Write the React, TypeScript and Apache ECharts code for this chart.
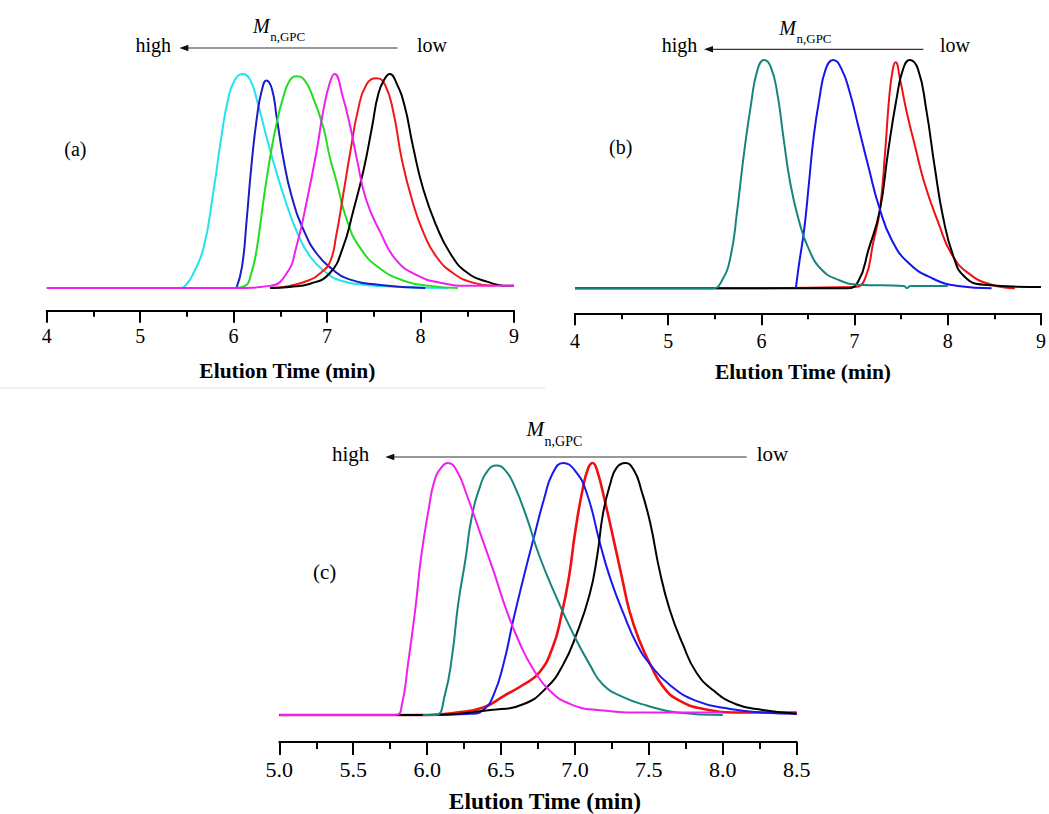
import React, { useEffect, useRef } from "react";
import * as echarts from "echarts";

const FONT = "Liberation Serif";
const AXIS_NAME = "Elution Time (min)";

// Panel (a) traces: [elution time (min), normalized detector response]
const cyanA: number[][] = [[4.0, 0], [5.0, 0], [5.43, 0], [5.5, 0.02], [5.57, 0.069], [5.68, 0.19], [5.78, 0.44], [5.87, 0.71], [5.94, 0.88], [6.01, 0.97], [6.1, 1.0], [6.18, 0.97], [6.26, 0.86], [6.39, 0.645], [6.53, 0.44], [6.67, 0.27], [6.82, 0.146], [7.0, 0.069], [7.14, 0.035], [7.39, 0.015], [7.8, 0.005], [8.3, 0]];
const blueA: number[][] = [[6.03, 0], [6.09, 0.1], [6.14, 0.32], [6.19, 0.57], [6.25, 0.8], [6.3, 0.92], [6.35, 0.97], [6.41, 0.93], [6.46, 0.8], [6.53, 0.61], [6.62, 0.43], [6.75, 0.27], [6.89, 0.16], [7.05, 0.09], [7.21, 0.045], [7.57, 0.014], [8.05, 0]];
const greenA: number[][] = [[6.0, 0], [6.12, 0.01], [6.19, 0.07], [6.25, 0.19], [6.32, 0.41], [6.39, 0.61], [6.46, 0.77], [6.53, 0.89], [6.6, 0.97], [6.67, 0.99], [6.76, 0.97], [6.85, 0.89], [6.96, 0.75], [7.03, 0.61], [7.1, 0.5], [7.21, 0.32], [7.35, 0.19], [7.57, 0.09], [7.85, 0.03], [8.1, 0.01], [8.4, 0]];
const redA: number[][] = [[6.39, 0], [6.6, 0.01], [6.8, 0.035], [6.93, 0.07], [7.03, 0.12], [7.1, 0.25], [7.17, 0.43], [7.25, 0.64], [7.33, 0.83], [7.42, 0.95], [7.53, 0.98], [7.62, 0.95], [7.71, 0.82], [7.8, 0.6], [7.91, 0.41], [8.03, 0.26], [8.17, 0.146], [8.35, 0.069], [8.56, 0.025], [8.78, 0.01]];
const blackA: number[][] = [[6.39, 0], [6.6, 0.005], [6.82, 0.02], [7.03, 0.07], [7.17, 0.19], [7.28, 0.36], [7.39, 0.55], [7.48, 0.75], [7.55, 0.91], [7.62, 0.98], [7.67, 1.0], [7.74, 0.96], [7.83, 0.85], [7.92, 0.66], [8.03, 0.46], [8.17, 0.29], [8.32, 0.16], [8.49, 0.075], [8.71, 0.03], [8.96, 0.01], [9.0, 0.01]];
const magentaA: number[][] = [[4.0, 0], [5.0, 0], [6.0, 0], [6.39, 0.01], [6.57, 0.07], [6.67, 0.19], [6.78, 0.4], [6.89, 0.645], [6.96, 0.83], [7.03, 0.96], [7.08, 1.0], [7.17, 0.89], [7.25, 0.75], [7.32, 0.6], [7.42, 0.41], [7.57, 0.26], [7.74, 0.13], [7.96, 0.06], [8.21, 0.025], [8.53, 0.01], [9.0, 0.01]];

// Panel (b) traces
const redB: number[][] = [[4.0, 0], [5.0, 0], [6.0, 0], [7.0, 0.005], [7.11, 0.04], [7.2, 0.2], [7.27, 0.34], [7.33, 0.61], [7.37, 0.83], [7.41, 0.96], [7.44, 0.99], [7.49, 0.91], [7.56, 0.77], [7.65, 0.62], [7.75, 0.46], [7.9, 0.285], [8.04, 0.15], [8.22, 0.066], [8.47, 0.015], [8.72, 0]];
const blackB: number[][] = [[4.0, 0], [6.0, 0], [6.92, 0], [7.04, 0.03], [7.15, 0.17], [7.27, 0.34], [7.36, 0.6], [7.45, 0.83], [7.52, 0.96], [7.59, 1.0], [7.68, 0.96], [7.77, 0.78], [7.86, 0.53], [7.95, 0.31], [8.06, 0.14], [8.18, 0.05], [8.39, 0.015], [9.0, 0.005]];
const blueB: number[][] = [[6.37, 0], [6.4, 0.095], [6.46, 0.26], [6.51, 0.46], [6.56, 0.66], [6.62, 0.825], [6.69, 0.96], [6.77, 1.0], [6.86, 0.96], [6.95, 0.855], [7.04, 0.71], [7.15, 0.53], [7.26, 0.36], [7.4, 0.21], [7.58, 0.11], [7.83, 0.044], [8.11, 0.01], [8.47, 0]];
const tealB: number[][] = [[4.0, 0], [5.0, 0], [5.48, 0], [5.58, 0.036], [5.67, 0.14], [5.74, 0.34], [5.81, 0.58], [5.89, 0.81], [5.96, 0.96], [6.03, 1.0], [6.1, 0.97], [6.17, 0.855], [6.24, 0.65], [6.31, 0.46], [6.4, 0.3], [6.51, 0.17], [6.65, 0.08], [6.83, 0.036], [7.04, 0.015], [7.53, 0.01], [7.56, 0.0], [7.6, 0.01], [8.0, 0.01]];

// Panel (c) traces
const redC: number[][] = [[5.0, 0], [6.0, 0], [6.2, 0.01], [6.38, 0.03], [6.52, 0.076], [6.65, 0.12], [6.76, 0.17], [6.85, 0.27], [6.91, 0.4], [6.96, 0.55], [7.0, 0.72], [7.05, 0.89], [7.09, 0.98], [7.12, 1.0], [7.15, 0.97], [7.2, 0.855], [7.26, 0.7], [7.32, 0.54], [7.37, 0.41], [7.44, 0.29], [7.51, 0.2], [7.6, 0.11], [7.71, 0.056], [7.87, 0.024], [8.12, 0.01], [8.5, 0.01]];
const blueC: number[][] = [[5.0, 0], [6.0, 0], [6.3, 0.005], [6.38, 0.02], [6.45, 0.08], [6.52, 0.21], [6.58, 0.37], [6.65, 0.54], [6.72, 0.7], [6.79, 0.855], [6.85, 0.96], [6.92, 1.0], [7.0, 0.97], [7.08, 0.88], [7.17, 0.68], [7.24, 0.54], [7.33, 0.4], [7.42, 0.28], [7.51, 0.2], [7.64, 0.12], [7.82, 0.056], [8.05, 0.024], [8.27, 0.01], [8.5, 0.005]];
const blackC: number[][] = [[5.0, 0], [6.0, 0], [6.43, 0.02], [6.65, 0.043], [6.81, 0.11], [6.92, 0.2], [7.01, 0.32], [7.1, 0.48], [7.15, 0.63], [7.19, 0.8], [7.24, 0.92], [7.28, 0.98], [7.34, 1.0], [7.4, 0.97], [7.45, 0.89], [7.51, 0.76], [7.57, 0.58], [7.64, 0.42], [7.73, 0.28], [7.82, 0.17], [7.94, 0.096], [8.09, 0.043], [8.27, 0.02], [8.5, 0.005]];
const tealC: number[][] = [[5.97, 0], [6.06, 0], [6.12, 0.08], [6.17, 0.24], [6.21, 0.44], [6.26, 0.62], [6.3, 0.78], [6.36, 0.91], [6.41, 0.97], [6.47, 0.99], [6.53, 0.97], [6.59, 0.91], [6.67, 0.79], [6.76, 0.63], [6.88, 0.46], [6.99, 0.32], [7.1, 0.2], [7.19, 0.12], [7.33, 0.07], [7.49, 0.037], [7.69, 0.01], [8.0, 0]];
const magentaC: number[][] = [[5.0, 0], [5.5, 0], [5.79, 0], [5.83, 0.043], [5.87, 0.2], [5.92, 0.42], [5.96, 0.63], [6.01, 0.815], [6.05, 0.93], [6.1, 0.985], [6.14, 1.0], [6.2, 0.97], [6.27, 0.87], [6.36, 0.72], [6.45, 0.57], [6.54, 0.41], [6.63, 0.28], [6.72, 0.18], [6.83, 0.096], [6.97, 0.043], [7.15, 0.02], [7.5, 0.01], [8.0, 0.01]];

const panelLabels = ["(a)", "(b)", "(c)"];
const headerTexts = { high: "high", low: "low", M: "M", sub: "n,GPC" };

function xAxis(gridIndex: number, min: number, max: number, interval: number, fontSize: number, margin: number, nameGap: number, nameSize: number, decimals: number, tickLen: number, minorLen: number, namePad: number[]) {
  return {
    type: "value",
    gridIndex,
    min,
    max,
    interval,
    position: "bottom",
    axisLine: { show: true, onZero: false, lineStyle: { color: "#000", width: 2 } },
    axisTick: { show: true, inside: false, length: tickLen, lineStyle: { color: "#000", width: 2 } },
    minorTick: { show: true, splitNumber: 2, length: minorLen, lineStyle: { color: "#000", width: 2 } },
    splitLine: { show: false },
    minorSplitLine: { show: false },
    axisLabel: {
      show: true,
      margin,
      color: "#000",
      fontFamily: FONT,
      fontSize,
      formatter: (v: number) => v.toFixed(decimals),
    },
    name: AXIS_NAME,
    nameLocation: "middle",
    nameGap,
    nameTextStyle: { fontFamily: FONT, fontWeight: "bold", fontSize: nameSize, color: "#000", padding: namePad },
  };
}

function yAxis(gridIndex: number, min: number) {
  return { type: "value", gridIndex, min, max: 1, show: false, splitLine: { show: false } };
}

function line(data: number[][], color: string, idx: number, width = 2) {
  return {
    type: "line",
    xAxisIndex: idx,
    yAxisIndex: idx,
    data,
    showSymbol: false,
    symbol: "none",
    smooth: 0.5,
    lineStyle: { color, width },
    silent: true,
  };
}

function txt(text: string, x: number, y: number, size: number, extra: any = {}) {
  return {
    type: "text",
    x,
    y,
    silent: true,
    style: { text, fill: "#000", font: `${extra.italic ? "italic " : ""}${size}px ${FONT}`, align: "left", verticalAlign: "middle" },
  };
}

function header(highX: number, lowX: number, textY: number, arrowL: number, arrowR: number, arrowY: number, mX: number, mY: number, subY: number, size: number, subSize: number) {
  const els: any[] = [
    txt(headerTexts.high, highX, textY, size),
    txt(headerTexts.low, lowX, textY, size),
    txt(headerTexts.M, mX, mY, size, { italic: true }),
    txt(headerTexts.sub, mX + size * 0.86, subY, subSize),
    { type: "line", silent: true, shape: { x1: arrowL + 7, y1: arrowY, x2: arrowR, y2: arrowY }, style: { stroke: "#333", lineWidth: 1.2 } },
    { type: "polygon", silent: true, shape: { points: [[arrowL, arrowY], [arrowL + 9, arrowY - 3.2], [arrowL + 9, arrowY + 3.2]] }, style: { fill: "#111" } },
  ];
  return els;
}

const option: any = {
  animation: false,
  backgroundColor: "#fff",
  grid: [
    { left: 46.7, top: 74, width: 467.3, height: 236.7 },
    { left: 575, top: 60, width: 468.3, height: 253.3 },
    { left: 279.3, top: 463, width: 517.4, height: 282 },
  ],
  xAxis: [
    xAxis(0, 4, 9, 1, 20, 15, 49, 21.5, 0, 12, 6, [0, 0, 0, 14]),
    xAxis(1, 4, 9, 1, 20, 18, 48, 21.5, 0, 12, 6, [0, 10, 0, 0]),
    xAxis(2, 5, 8.5, 0.5, 22, 16, 47, 23.5, 1, 13, 7, [0, 0, 0, 14]),
  ],
  yAxis: [yAxis(0, -0.106), yAxis(1, -0.11), yAxis(2, -0.107)],
  series: [
    line(cyanA, "#22E4EE", 0),
    line(blueA, "#1C1CC4", 0),
    line(greenA, "#22DD22", 0),
    line(redA, "#F01818", 0),
    line(blackA, "#000000", 0),
    line(magentaA, "#F01EF0", 0),
    line(redB, "#F01010", 1),
    line(blackB, "#000000", 1),
    line(blueB, "#1414EE", 1),
    line(tealB, "#16857C", 1),
    line(redC, "#F01010", 2, 2.6),
    line(blueC, "#1818F0", 2),
    line(blackC, "#000000", 2),
    line(tealC, "#16857C", 2),
    line(magentaC, "#F020F0", 2),
  ],
  graphic: [
    ...header(135.4, 417, 44.5, 179.4, 397.6, 48, 253, 26, 36, 20, 13),
    ...header(661.7, 940, 45, 704, 923.3, 49.3, 779.3, 27.6, 38.3, 20, 13),
    ...header(332, 756.7, 453.5, 385.3, 746.7, 457, 526.5, 428.7, 441.4, 21, 14),
    txt(panelLabels[0], 64.3, 149, 20),
    txt(panelLabels[1], 609, 146.7, 20),
    txt(panelLabels[2], 313, 571.5, 21),
    { type: "line", silent: true, shape: { x1: 0, y1: 388, x2: 545, y2: 388 }, style: { stroke: "#e2e2e2", lineWidth: 1 } },
  ],
};

export default function App() {
  const ref = useRef<HTMLDivElement>(null);
  useEffect(() => {
    if (!ref.current) return;
    const chart = echarts.init(ref.current, null, { renderer: "svg" });
    chart.setOption(option);
    return () => chart.dispose();
  }, []);
  return (
    <div
      ref={ref}
      style={{ position: "fixed", left: 0, top: 0, width: 1049, height: 814, background: "#fff" }}
    />
  );
}
